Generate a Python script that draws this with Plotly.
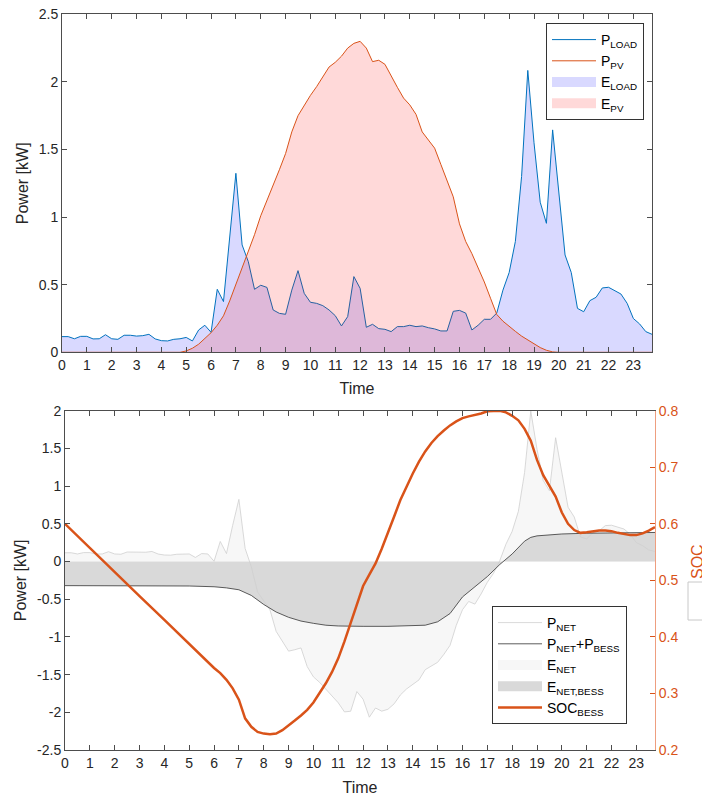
import plotly.graph_objects as go

# Time axis: 15-minute resolution over one day
time_h = [i * 0.25 for i in range(96)]

# Household load [kW], one value per 15 min
p_load = [
    0.116, 0.116, 0.100, 0.118,   # 0 h
    0.118, 0.099, 0.100, 0.130,   # 1 h
    0.100, 0.096, 0.126, 0.126,   # 2 h
    0.120, 0.123, 0.133, 0.099,   # 3 h
    0.086, 0.084, 0.096, 0.100,   # 4 h
    0.110, 0.084, 0.165, 0.200,   # 5 h
    0.148, 0.466, 0.375, 0.860,   # 6 h
    1.324, 0.794, 0.670, 0.466,   # 7 h
    0.496, 0.480, 0.313, 0.288,   # 8 h
    0.281, 0.460, 0.604, 0.436,   # 9 h
    0.370, 0.362, 0.345, 0.313,   # 10 h
    0.271, 0.195, 0.264, 0.560,   # 11 h
    0.473, 0.185, 0.207, 0.175,   # 12 h
    0.170, 0.153, 0.190, 0.190,   # 13 h
    0.200, 0.190, 0.195, 0.182,   # 14 h
    0.173, 0.158, 0.158, 0.303,   # 15 h
    0.310, 0.290, 0.165, 0.200,   # 16 h
    0.244, 0.244, 0.290, 0.460,   # 17 h
    0.590, 0.820, 1.300, 2.085,   # 18 h
    1.550, 1.110, 0.954, 1.645,   # 19 h
    1.200, 0.720, 0.590, 0.325,   # 20 h
    0.300, 0.382, 0.407, 0.476,   # 21 h
    0.481, 0.454, 0.431, 0.362,   # 22 h
    0.250, 0.210, 0.153, 0.133,   # 23 h
]

# PV generation [kW], one value per 15 min
p_pv = [
    0.0, 0.0, 0.0, 0.0,           # 0 h
    0.0, 0.0, 0.0, 0.0,           # 1 h
    0.0, 0.0, 0.0, 0.0,           # 2 h
    0.0, 0.0, 0.0, 0.0,           # 3 h
    0.0, 0.0, 0.0, 0.0,           # 4 h
    0.010, 0.030, 0.060, 0.100,   # 5 h
    0.145, 0.200, 0.270, 0.380,   # 6 h
    0.500, 0.620, 0.740, 0.870,   # 7 h
    1.010, 1.120, 1.240, 1.350,   # 8 h
    1.470, 1.630, 1.750, 1.830,   # 9 h
    1.900, 1.965, 2.040, 2.110,   # 10 h
    2.145, 2.190, 2.250, 2.285,   # 11 h
    2.300, 2.250, 2.150, 2.160,   # 12 h
    2.130, 2.040, 1.960, 1.880,   # 13 h
    1.830, 1.760, 1.630, 1.570,   # 14 h
    1.510, 1.390, 1.270, 1.150,   # 15 h
    0.950, 0.820, 0.730, 0.630,   # 16 h
    0.520, 0.400, 0.280, 0.230,   # 17 h
    0.190, 0.155, 0.120, 0.090,   # 18 h
    0.060, 0.035, 0.015, 0.003,   # 19 h
    0.0, 0.0, 0.0, 0.0,           # 20 h
    0.0, 0.0, 0.0, 0.0,           # 21 h
    0.0, 0.0, 0.0, 0.0,           # 22 h
    0.0, 0.0, 0.0, 0.0,           # 23 h
]

# Net exchange without storage
p_net = [l - g for l, g in zip(p_load, p_pv)]

# Net exchange with the battery operating [kW]
t_bess = [0, 1, 2, 3, 4, 5, 6, 6.5, 7, 7.5, 8, 8.5, 9, 9.5, 10, 10.5, 11, 11.5,
          12, 13, 14, 14.5, 15, 15.5, 16, 16.5, 17, 17.5, 18, 18.5, 18.75, 19,
          19.5, 20, 21, 22, 23, 23.75]
p_net_bess = [-0.32, -0.32, -0.32, -0.32, -0.32, -0.325, -0.335, -0.35, -0.375,
              -0.45, -0.57, -0.67, -0.74, -0.79, -0.82, -0.845, -0.855, -0.86,
              -0.86, -0.86, -0.855, -0.845, -0.80, -0.69, -0.47, -0.33, -0.20,
              -0.04, 0.10, 0.27, 0.32, 0.34, 0.355, 0.365, 0.375, 0.38, 0.38,
              0.385]

# Battery state of charge [-]
t_soc = [0, 1, 2, 3, 4, 5, 6, 6.25, 6.5, 6.75, 7, 7.25, 7.5, 7.75, 8, 8.25,
         8.5, 8.75, 9, 9.25, 9.5, 9.75, 10, 10.25, 10.5, 10.75, 11, 11.25, 11.5,
         11.75, 12, 12.25, 12.5, 12.75, 13, 13.25, 13.5, 13.75, 14, 14.25, 14.5,
         14.75, 15, 15.25, 15.5, 15.75, 16, 16.25, 16.5, 16.75, 17, 17.25, 17.5,
         17.75, 18, 18.25, 18.5, 18.75, 19, 19.25, 19.5, 19.75, 20, 20.25, 20.5,
         20.75, 21, 21.25, 21.5, 21.75, 22, 22.25, 22.5, 22.75, 23, 23.25, 23.5,
         23.75]
soc = [0.600, 0.557, 0.515, 0.472, 0.430, 0.387, 0.345, 0.336, 0.324, 0.309,
       0.289, 0.256, 0.241, 0.232, 0.229, 0.228, 0.229, 0.235, 0.243, 0.252,
       0.261, 0.271, 0.284, 0.300, 0.318, 0.338, 0.362, 0.392, 0.424, 0.458,
       0.490, 0.510, 0.530, 0.556, 0.583, 0.613, 0.642, 0.667, 0.689, 0.710,
       0.728, 0.743, 0.755, 0.765, 0.774, 0.781, 0.787, 0.790, 0.792, 0.795,
       0.799, 0.800, 0.800, 0.797, 0.791, 0.783, 0.768, 0.747, 0.713, 0.686,
       0.667, 0.648, 0.620, 0.600, 0.589, 0.584, 0.585, 0.587, 0.588, 0.588,
       0.587, 0.584, 0.582, 0.580, 0.580, 0.583, 0.588, 0.594]

hour_ticks = list(range(24))
top_yticks = [0, 0.5, 1, 1.5, 2, 2.5]
bot_yticks = [-2.5, -2, -1.5, -1, -0.5, 0, 0.5, 1, 1.5, 2]
soc_ticks = [0.2, 0.3, 0.4, 0.5, 0.6, 0.7, 0.8]


def fmt(v):
    return "%g" % v


W, H = 702, 796
FONT = "Liberation Sans, Arial, sans-serif"
TXT = "#262626"
AX = "#4d4d4d"
ORANGE = "#D95319"
BLUE_FILL = "rgba(0,0,255,0.15)"
RED_FILL = "rgba(255,0,0,0.15)"
NET_FILL = "#F7F7F7"
BESS_FILL = "#D9D9D9"


def patch_key(name, color, legend, rank):
    """Legend-only entry drawn as a thick swatch for an area fill."""
    return go.Scatter(x=[None], y=[None], mode="lines",
                      line=dict(color=color, width=16), name=name,
                      legend=legend, legendrank=rank, hoverinfo="skip")


fig = go.Figure()

# ---- top panel: load and PV ----
fig.add_trace(go.Scatter(x=time_h, y=p_load, mode="lines", fill="tozeroy",
                         fillcolor=BLUE_FILL, line=dict(width=0),
                         showlegend=False, xaxis="x", yaxis="y"))
fig.add_trace(go.Scatter(x=time_h, y=p_load, mode="lines",
                         line=dict(color="#0072BD", width=1),
                         name="P<sub>LOAD</sub>", legend="legend", legendrank=1,
                         xaxis="x", yaxis="y"))
fig.add_trace(go.Scatter(x=time_h, y=p_pv, mode="lines", fill="tozeroy",
                         fillcolor=RED_FILL, line=dict(width=0),
                         showlegend=False, xaxis="x", yaxis="y"))
fig.add_trace(go.Scatter(x=time_h, y=p_pv, mode="lines",
                         line=dict(color=ORANGE, width=1),
                         name="P<sub>PV</sub>", legend="legend", legendrank=2,
                         xaxis="x", yaxis="y"))
fig.add_trace(patch_key("E<sub>LOAD</sub>", BLUE_FILL, "legend", 3))
fig.add_trace(patch_key("E<sub>PV</sub>", RED_FILL, "legend", 4))

# ---- bottom panel: net exchange and battery ----
fig.add_trace(go.Scatter(x=time_h, y=p_net, mode="lines", fill="tozeroy",
                         fillcolor=NET_FILL, line=dict(width=0),
                         showlegend=False, xaxis="x2", yaxis="y2"))
fig.add_trace(go.Scatter(x=t_bess, y=p_net_bess, mode="lines", fill="tozeroy",
                         fillcolor=BESS_FILL, line=dict(width=0),
                         showlegend=False, xaxis="x2", yaxis="y2"))
fig.add_trace(go.Scatter(x=time_h, y=p_net, mode="lines",
                         line=dict(color="#CFCFCF", width=0.8),
                         name="P<sub>NET</sub>", legend="legend2", legendrank=1,
                         xaxis="x2", yaxis="y2"))
fig.add_trace(go.Scatter(x=t_bess, y=p_net_bess, mode="lines",
                         line=dict(color="#333333", width=0.8),
                         name="P<sub>NET</sub>+P<sub>BESS</sub>", legend="legend2",
                         legendrank=2, xaxis="x2", yaxis="y2"))
fig.add_trace(patch_key("E<sub>NET</sub>", NET_FILL, "legend2", 3))
fig.add_trace(patch_key("E<sub>NET,BESS</sub>", BESS_FILL, "legend2", 4))
fig.add_trace(go.Scatter(x=t_soc, y=soc, mode="lines",
                         line=dict(color=ORANGE, width=2.5),
                         name="SOC<sub>BESS</sub>", legend="legend2", legendrank=5,
                         xaxis="x2", yaxis="y3"))

# plot-area geometry in pixels
top_l, top_r, top_t, top_b = 62, 652, 14.3, 352.3
bot_l, bot_r, bot_t, bot_b = 65, 655, 410.7, 750

axis_common = dict(showgrid=False, zeroline=False, showline=True, linecolor=AX,
                   linewidth=1, ticks="inside", ticklen=5, tickcolor=AX,
                   tickfont=dict(family=FONT, size=14, color=TXT),
                   automargin=False)

legend_common = dict(xanchor="left", yanchor="top", bgcolor="white",
                     bordercolor="#333333", borderwidth=1,
                     font=dict(family=FONT, size=14, color="black"),
                     itemwidth=44, tracegroupgap=0, traceorder="normal")

fig.update_layout(
    width=W, height=H, template="none",
    margin=dict(l=0, r=0, t=0, b=0),
    paper_bgcolor="white", plot_bgcolor="white",
    font=dict(family=FONT, size=14, color=TXT),
    showlegend=True,
    xaxis=dict(axis_common, domain=[top_l / W, top_r / W], range=[0, 23.75],
               tickvals=hour_ticks, ticktext=[str(h) for h in hour_ticks],
               mirror="ticks", anchor="y",
               title=dict(text="Time", font=dict(size=16), standoff=10)),
    yaxis=dict(axis_common, domain=[1 - top_b / H, 1 - top_t / H], range=[0, 2.5],
               tickvals=top_yticks, ticktext=[fmt(v) for v in top_yticks],
               mirror="ticks", anchor="x",
               title=dict(text="Power [kW]", font=dict(size=16), standoff=6)),
    xaxis2=dict(axis_common, domain=[bot_l / W, bot_r / W], range=[0, 23.75],
                tickvals=hour_ticks, ticktext=[str(h) for h in hour_ticks],
                mirror="ticks", anchor="y2",
                title=dict(text="Time", font=dict(size=16), standoff=12)),
    yaxis2=dict(axis_common, domain=[1 - bot_b / H, 1 - bot_t / H], range=[-2.5, 2],
                tickvals=bot_yticks, ticktext=[fmt(v) for v in bot_yticks],
                anchor="x2",
                title=dict(text="Power [kW]", font=dict(size=16), standoff=6)),
    yaxis3=dict(axis_common, overlaying="y2", side="right", anchor="x2",
                range=[0.2, 0.8], tickvals=soc_ticks,
                ticktext=[fmt(v) for v in soc_ticks],
                linecolor="#EE9E7F", tickcolor=ORANGE,
                tickfont=dict(family=FONT, size=14, color=ORANGE)),
    legend=dict(legend_common, x=546 / W, y=1 - 23 / H),
    legend2=dict(legend_common, x=492 / W, y=1 - 606 / H),
)

# secondary-axis label at the right border and its frame
fig.add_annotation(text="SOC", textangle=-90, showarrow=False,
                   xref="paper", yref="paper", x=697 / W, y=1 - 562 / H,
                   xanchor="center", yanchor="middle",
                   font=dict(family=FONT, size=16, color=ORANGE))
fig.add_shape(type="rect", xref="paper", yref="paper",
              x0=688 / W, x1=1.05, y0=1 - 620 / H, y1=1 - 582 / H,
              line=dict(color="#C8C8C8", width=1), fillcolor="rgba(0,0,0,0)")

fig.write_html("out.html")
